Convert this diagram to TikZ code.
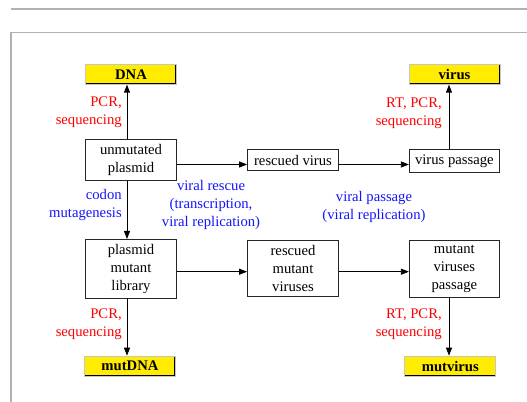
\documentclass[tikz,border=0pt]{standalone}
\usepackage{fontspec}
\setmainfont{Liberation Serif}
\usetikzlibrary{arrows.meta}
\definecolor{boxyellow}{RGB}{255,236,0}
\definecolor{labred}{RGB}{255,0,0}
\definecolor{labblue}{RGB}{20,20,255}
\tikzstyle{stage} = [rectangle, draw=black!85, line width=0.6pt, fill=white, text centered, align=center, inner sep=0pt, minimum width=68.25pt, font=\fontsize{11}{13.5}\selectfont]
\tikzstyle{result} = [rectangle, fill=boxyellow, draw=gray!45, line width=0.5pt, minimum width=68.25pt, minimum height=15pt, inner sep=0pt, font=\fontsize{11}{13.5}\selectfont\bfseries,
  path picture={\draw[black, line width=1.8pt] (path picture bounding box.south west) -- (path picture bounding box.south east) -- (path picture bounding box.north east);}]
\tikzstyle{method} = [text=labred, align=right, anchor=east, inner sep=0pt, font=\fontsize{11}{13.5}\selectfont]
\tikzstyle{process} = [text=labblue, align=center, inner sep=0pt, font=\fontsize{11}{13.5}\selectfont]
\tikzstyle{arrow} = [line width=0.6pt, ->, >={Triangle[length=6pt,width=4.5pt]}]

\begin{document}
\begin{tikzpicture}[x=0.75pt, y=-0.75pt]
            \useasboundingbox (0,0) rectangle (527,402);
            \draw[gray!60, line width=0.8pt] (11,9) -- (527,9);
            \draw[gray!60, line width=0.8pt] (11,402) -- (11,32.5) -- (527,32.5);

            \coordinate (colL) at (127,0);
            \coordinate (colR) at (449,0);
            \coordinate (rowA) at (0,164.5);
            \coordinate (rowB) at (0,271.7);

            \node(dna) [result] at (131,74.3) {DNA};
            \node(virus) [result] at (454.5,74.3) {virus};
            \node(plasmid) [stage, minimum height=30.75pt] at (131,160.3) {unmutated\\plasmid};
            \node(rescued) [stage, minimum height=15.75pt] at (293,160.3) {rescued virus};
            \node(passage) [stage, minimum height=17.25pt, minimum width=67.5pt] at (454.3,160.8) {virus passage};
            \node(library) [stage, minimum height=44pt] at (131,268.7) {plasmid\\mutant\\library};
            \node(mutrescued) [stage, minimum height=41.5pt] at (293,268.3) {rescued\\mutant\\viruses};
            \node(mutpassage) [stage, minimum height=43pt, minimum width=67.5pt] at (454.3,268.7) {mutant\\viruses\\passage};
            \node(mutdna) [result] at (130,366) {mutDNA};
            \node(mutvirus) [result] at (450.3,366) {mutvirus};

            \node(pcrtop) [method] at (122,112.5) {PCR,\\sequencing};
            \node(rtpcrtop) [method] at (442,113) {RT, PCR,\\sequencing};
            \node(codon) [process, align=right, anchor=east] at (122,204.5) {codon\\mutagenesis};
            \node(rescue) [process] at (211,205) {viral rescue\\(transcription,\\viral replication)};
            \node(vpass) [process] at (374,207) {viral passage\\(viral replication)};
            \node(pcrbot) [method] at (122,324) {PCR,\\sequencing};
            \node(rtpcrbot) [method] at (442,324) {RT, PCR,\\sequencing};

            \draw[arrow] (plasmid.north -| colL) -- (dna.south -| colL);
            \draw[arrow] (plasmid.south -| colL) -- (library.north -| colL);
            \draw[arrow] (library.south -| colL) -- (mutdna.north -| colL);
            \draw[arrow] (passage.north -| colR) -- (virus.south -| colR);
            \draw[arrow] (mutpassage.south -| colR) -- (mutvirus.north -| colR);

            \draw[arrow] (plasmid.east |- rowA) -- (rescued.west |- rowA);
            \draw[arrow] (rescued.east |- rowA) -- (passage.west |- rowA);
            \draw[arrow] (library.east |- rowB) -- (mutrescued.west |- rowB);
            \draw[arrow] (mutrescued.east |- rowB) -- (mutpassage.west |- rowB);
\end{tikzpicture}
\end{document}
